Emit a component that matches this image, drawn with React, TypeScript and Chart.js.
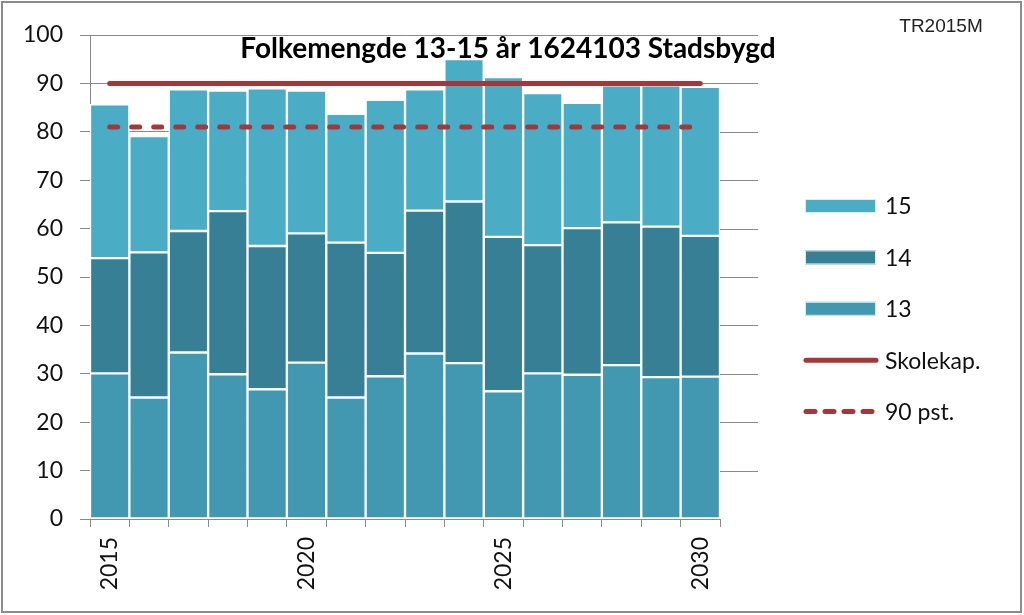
import React, { useEffect, useRef } from "react";
import { Chart, registerables } from "chart.js";

Chart.register(...registerables);

const years = ["2015","2016","2017","2018","2019","2020","2021","2022","2023","2024","2025","2026","2027","2028","2029","2030"];
const age13 = [30.1, 25.1, 34.4, 29.9, 26.8, 32.3, 25.1, 29.5, 34.2, 32.2, 26.4, 30.1, 29.8, 31.8, 29.3, 29.4];
const age14 = [23.8, 30.0, 25.1, 33.7, 29.6, 26.7, 32.0, 25.5, 29.5, 33.4, 31.9, 26.5, 30.3, 29.5, 31.1, 29.1];
const age15 = [31.8, 24.0, 29.3, 24.9, 32.6, 29.5, 26.6, 31.6, 25.1, 29.4, 33.0, 31.4, 25.9, 28.3, 29.2, 30.8];
const skolekap = [90, 90, 90, 90, 90, 90, 90, 90, 90, 90, 90, 90, 90, 90, 90, 90];
const pst90 = [81, 81, 81, 81, 81, 81, 81, 81, 81, 81, 81, 81, 81, 81, 81, 81];
const yTicks = [0, 10, 20, 30, 40, 50, 60, 70, 80, 90, 100];
const legendOrder = ["15", "14", "13", "Skolekap.", "90 pst."];
const titleText = "Folkemengde 13-15 år 1624103 Stadsbygd";
const cornerText = "TR2015M";

const FONT = "Lato, 'Open Sans', sans-serif";
const C15 = "#4BACC6";
const C14 = "#377F94";
const C13 = "#4298B0";
const CLINE = "#A43838";
const GRID = "#8a8a8a";

const decorPlugin = {
  id: "decor",
  beforeDraw(chart: any) {
    const { ctx, width, height } = chart;
    ctx.save();
    ctx.fillStyle = "#ffffff";
    ctx.fillRect(0, 0, width, height);
    ctx.restore();
  },
  afterDatasetsDraw(chart: any) {
    const { ctx, chartArea } = chart;
    const y = chart.scales.y;
    ctx.save();
    ctx.strokeStyle = GRID;
    ctx.lineWidth = 1;
    yTicks.forEach((v) => {
      if (v === 0) return;
      const py = Math.round(y.getPixelForValue(v)) + 0.5;
      ctx.beginPath();
      ctx.moveTo(chartArea.right, py);
      ctx.lineTo(chartArea.right + 38, py);
      ctx.stroke();
    });
    ctx.restore();
  },
  afterDraw(chart: any) {
    const { ctx, width, height } = chart;
    ctx.save();
    // title
    ctx.fillStyle = "#000";
    ctx.font = `bold 28px ${FONT}`;
    ctx.textAlign = "center";
    ctx.textBaseline = "middle";
    ctx.fillText(titleText, 508, 49);
    // corner tag
    ctx.font = "19px 'Liberation Sans', Arial, sans-serif";
    ctx.fillStyle = "#222";
    ctx.fillText(cornerText, 941, 27);
    // legend
    ctx.textAlign = "left";
    ctx.font = `23px ${FONT}`;
    legendOrder.forEach((name, i) => {
      const ds = chart.data.datasets.find((d: any) => d.label === name);
      const cy = 206 + i * 51.4;
      ctx.save();
      if (ds.type === "line") {
        ctx.strokeStyle = ds.borderColor;
        ctx.lineWidth = 5;
        ctx.lineCap = "round";
        ctx.setLineDash(ds.borderDash ? [9, 10] : []);
        ctx.beginPath();
        ctx.moveTo(806, cy);
        ctx.lineTo(876, cy);
        ctx.stroke();
      } else {
        ctx.fillStyle = ds.backgroundColor;
        ctx.fillRect(805, cy - 7, 71, 14);
        ctx.strokeStyle = "#d8eef4";
        ctx.lineWidth = 1;
        ctx.strokeRect(805.5, cy - 6.5, 70, 13);
      }
      ctx.restore();
      ctx.fillStyle = "#111";
      ctx.fillText(name, 885, cy + 1);
    });
    // frame
    ctx.strokeStyle = "#8c8c8c";
    ctx.lineWidth = 2;
    ctx.strokeRect(2, 2, width - 5, height - 5);
    ctx.restore();
  },
};

export default function App() {
  const ref = useRef<HTMLCanvasElement>(null);
  useEffect(() => {
    document.body.style.margin = "0";
    const barCommon = {
      borderColor: "#ffffff",
      borderWidth: 1.5,
      borderSkipped: false,
      categoryPercentage: 1,
      barPercentage: 1,
      order: 1,
      stack: "bars",
    };
    const chart = new Chart(ref.current as HTMLCanvasElement, {
      type: "bar",
      data: {
        labels: years,
        datasets: [
          { label: "13", data: age13, backgroundColor: C13, ...barCommon } as any,
          { label: "14", data: age14, backgroundColor: C14, ...barCommon } as any,
          { label: "15", data: age15, backgroundColor: C15, ...barCommon } as any,
          {
            type: "line",
            label: "Skolekap.",
            data: skolekap,
            stack: "l1",
            borderColor: CLINE,
            backgroundColor: CLINE,
            borderWidth: 5,
            borderCapStyle: "round",
            pointRadius: 0,
            order: 0,
          } as any,
          {
            type: "line",
            label: "90 pst.",
            data: pst90,
            stack: "l2",
            borderColor: CLINE,
            backgroundColor: CLINE,
            borderWidth: 5,
            borderDash: [8, 14],
            borderCapStyle: "round",
            pointRadius: 0,
            order: 0,
          } as any,
        ],
      },
      options: {
        animation: false,
        responsive: false,
        layout: { padding: { left: 0, top: 35, right: 304, bottom: 0 } },
        plugins: {
          title: { display: false },
          tooltip: { enabled: false },
          legend: { display: false },
        },
        scales: {
          x: {
            stacked: true,
            offset: true,
            grid: {
              offset: true,
              drawOnChartArea: false,
              drawTicks: true,
              tickLength: 8,
              color: GRID,
            },
            border: { display: true, color: GRID, width: 1 },
            ticks: {
              autoSkip: false,
              maxRotation: 90,
              minRotation: 90,
              padding: 10,
              color: "#111",
              font: { family: FONT, size: 23 },
              callback: (_v: any, idx: number) => (Number(years[idx]) % 5 === 0 ? years[idx] : ""),
            },
            afterFit: (s: any) => {
              s.height = 96;
            },
          },
          y: {
            stacked: true,
            min: 0,
            max: 100,
            grid: { color: GRID, tickLength: 10, drawTicks: true },
            border: { display: true, color: GRID, width: 1 },
            ticks: {
              stepSize: 10,
              padding: 17,
              color: "#111",
              font: { family: FONT, size: 23 },
            },
            afterFit: (s: any) => {
              s.width = 90;
            },
          },
        },
      } as any,
      plugins: [decorPlugin],
    });
    return () => chart.destroy();
  }, []);
  return (
    <div style={{ position: "fixed", left: 0, top: 0, width: 1024, height: 615 }}>
      <canvas ref={ref} width={1024} height={615} />
    </div>
  );
}
